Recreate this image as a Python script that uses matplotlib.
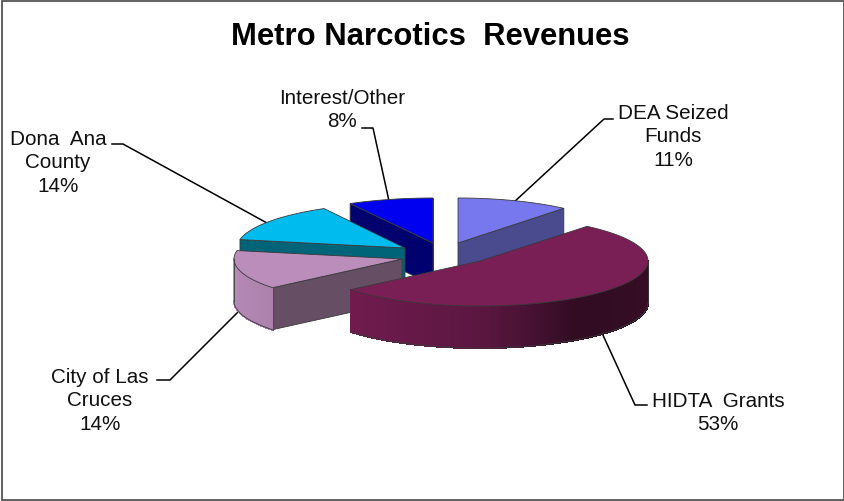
import numpy as np
import matplotlib
matplotlib.use('Agg')
import matplotlib.pyplot as plt
from matplotlib.patches import Polygon, Rectangle

# chart data, clockwise from 12 o'clock
categories = ['DEA Seized\nFunds', 'HIDTA  Grants', 'City of Las\nCruces', 'Dona  Ana\nCounty', 'Interest/Other']
values = [11, 53, 14, 14, 8]
title = 'Metro Narcotics  Revenues'

# look of each slice
top_colors = ['#7878EE', '#7A1E56', '#BB8DBB', '#00BBEE', '#0000F0']
wall_colors = ['#4A4A8E', '#4A1234', '#664E64', '#006478', '#00006E']
apex_x = [458, 480, 402, 405, 433]
apex_y = [243, 261, 259, 248, 243]
slice_rx = [166, 168, 168, 168, 172]
label_x = [673, 718, 100, 58, 342]
label_y = [137, 413, 401, 163, 110]
draw_order = [0, 4, 3, 2, 1]

ry = 45
depth = 42

# leader lines, from label to slice
leaders = [
    [(613, 119), (604, 119), (513, 203)],
    [(647, 405), (635, 405), (602, 333)],
    [(157, 380), (170, 380), (238, 312)],
    [(112, 144), (123, 144), (267, 223)],
    [(362, 128), (373, 128), (389, 201)],
]

# rim light by angle
shade_angle = [90, 146, 160, 180, 230, 280]
shade_level = [.45, .40, .55, .75, .92, 1.0]


def ring_point(i, theta):
    t = np.radians(theta)
    return apex_x[i] + slice_rx[i] * np.sin(t), apex_y[i] - ry * np.cos(t)


def draw_slice(ax, i, start, end):
    ax0, ay0 = apex_x[i], apex_y[i]
    edge = '#3a3a3a'

    # side walls of the cut, only those turned to the viewer
    for theta, normal in [(start, start - 90), (end, end + 90)]:
        if np.cos(np.radians(normal)) < 0.01:
            x, y = ring_point(i, theta)
            quad = [(ax0, ay0), (x, y), (x, y + depth), (ax0, ay0 + depth)]
            ax.add_patch(Polygon(quad, closed=True, facecolor=wall_colors[i], edgecolor=edge, linewidth=0.6))

    # outer rim, split up so it can take a gradient
    lo = max(start, 90)
    hi = min(end, 270)
    if lo < hi:
        steps = np.arange(lo, hi + 1.5, 1.5)
        steps[-1] = hi
        base = np.array(matplotlib.colors.to_rgb(top_colors[i]))
        for a, b in zip(steps[:-1], steps[1:]):
            xa, ya = ring_point(i, a)
            xb, yb = ring_point(i, b)
            col = base * np.interp((a + b) / 2, shade_angle, shade_level)
            ax.add_patch(Polygon([(xa, ya), (xb, yb), (xb, yb + depth), (xa, ya + depth)], closed=True,
                                 facecolor=col, edgecolor=col, linewidth=0.8, antialiased=False))
        arc = np.linspace(lo, hi, 60)
        xs, ys = ring_point(i, arc)
        ax.plot(xs, ys + depth, color=edge, lw=0.6)
        x0, y0 = ring_point(i, lo)
        x1, y1 = ring_point(i, hi)
        ax.plot([x0, x0], [y0, y0 + depth], color=edge, lw=0.6)
        ax.plot([x1, x1], [y1, y1 + depth], color=edge, lw=0.6)

    # top face
    arc = np.linspace(start, end, 80)
    xs, ys = ring_point(i, arc)
    pts = [(ax0, ay0)] + list(zip(xs, ys))
    ax.add_patch(Polygon(pts, closed=True, facecolor=top_colors[i], edgecolor=edge, linewidth=0.6))


fig = plt.figure(figsize=(8.45, 5.01), dpi=100)
ax = fig.add_axes([0, 0, 1, 1])
ax.set_xlim(0, 845)
ax.set_ylim(501, 0)
ax.axis('off')
plt.rcParams['font.family'] = ['Liberation Sans', 'DejaVu Sans']

ax.add_patch(Rectangle((2, 1), 842, 499, facecolor='white', edgecolor='#555555', linewidth=1.3))

for pts in leaders:
    ax.plot([p[0] for p in pts], [p[1] for p in pts], color='black', lw=1.1, zorder=1)

edges = np.cumsum([0] + values) / sum(values) * 360
for i in draw_order:
    draw_slice(ax, i, edges[i], edges[i + 1])

for i in range(len(categories)):
    ax.text(label_x[i], label_y[i], categories[i] + '\n' + str(values[i]) + '%',
            ha='center', va='center', fontsize=14.85, color='#111111', linespacing=1.29)

ax.text(430, 37, title, ha='center', va='center', fontsize=22.3, fontweight='bold', color='black')

fig.savefig('out.png', dpi=100)
